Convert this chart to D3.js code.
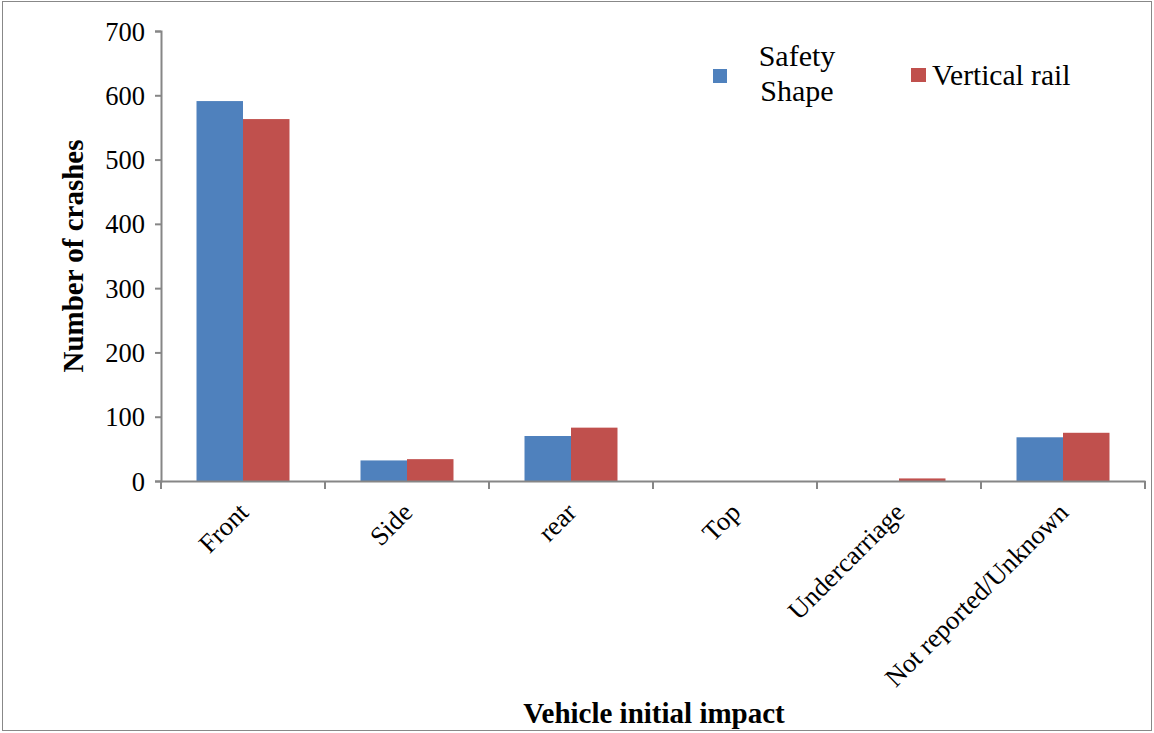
<!DOCTYPE html>
<html><head><meta charset="utf-8">
<script src="https://cdn.jsdelivr.net/npm/d3@7"></script>
<style>body{margin:0;background:#fff}svg{display:block}
svg text{font-family:"Liberation Serif","Times New Roman",serif !important;fill:#000}</style>
</head><body>
<script>
const categories = ["Front","Side","rear","Top","Undercarriage","Not reported/Unknown"];
const seriesNames = ["Safety Shape","Vertical rail"];
const safetyShape = [591, 32, 70, 0, 0, 68];
const verticalRail = [563, 34, 83, 0, 4, 75];
const yTicks = [0,100,200,300,400,500,600,700];
const colors = ["#4F81BD","#C0504D"];

const W=1154,H=733;
const m={left:161,right:1145,top:31,bottom:481};
const svg=d3.select("body").append("svg").attr("width",W).attr("height",H);
svg.append("rect").attr("x",2.5).attr("y",1.5).attr("width",1149).attr("height",729).attr("fill","none").attr("stroke","#888").attr("stroke-width",1);

const x=d3.scaleBand().domain(categories).range([m.left,m.right]);
const y=d3.scaleLinear().domain([0,700]).range([m.bottom,m.top]);
const inner=0.567;
const x1=d3.scaleBand().domain(seriesNames).range([0,x.bandwidth()*inner]);
const data=[safetyShape,verticalRail];

const g=svg.append("g");
categories.forEach((c,i)=>{
  seriesNames.forEach((s,j)=>{
    const v=data[j][i];
    if(v<=0) return;
    g.append("rect").attr("x",x(c)+x.bandwidth()*(1-inner)/2+x1(s)).attr("y",y(v))
     .attr("width",x1.bandwidth()).attr("height",y(0)-y(v)).attr("fill",colors[j]);
  });
});

// y axis
const ya=svg.append("g").attr("transform",`translate(${m.left},0)`)
  .call(d3.axisLeft(y).tickValues(yTicks).tickSize(6).tickPadding(10));
ya.select(".domain").attr("stroke","#868686").attr("stroke-width",2);
ya.selectAll(".tick line").attr("stroke","#868686").attr("stroke-width",2);
ya.selectAll("text").attr("font-size",26.5).attr("dy","0.34em");

// x axis
const xa=svg.append("g").attr("transform",`translate(0,${m.bottom})`)
  .call(d3.axisBottom(x).tickSize(0).tickSizeOuter(0));
xa.select(".domain").attr("stroke","#868686").attr("stroke-width",2);
xa.selectAll(".tick text").attr("font-size",26.5)
  .attr("text-anchor","end").attr("dy",0).attr("y",0)
  .attr("transform","translate(7,33) rotate(-45)");
// boundary ticks
const bounds=categories.map(c=>x(c)).concat([m.right]);
svg.append("g").selectAll("line").data(bounds).join("line")
  .attr("x1",d=>d).attr("x2",d=>d).attr("y1",m.bottom).attr("y2",m.bottom+8)
  .attr("stroke","#868686").attr("stroke-width",2);

// titles
svg.append("text").attr("transform","translate(83,256) rotate(-90)").attr("text-anchor","middle")
  .attr("font-weight","bold").attr("font-size",29).text("Number of crashes");
svg.append("text").attr("x",654).attr("y",723).attr("text-anchor","middle")
  .attr("font-weight","bold").attr("font-size",29).text("Vehicle initial impact");

// legend
const lg=svg.append("g");
lg.append("rect").attr("x",713).attr("y",69).attr("width",14).attr("height",14).attr("fill",colors[0]);
lg.append("text").attr("x",797).attr("y",66).attr("text-anchor","middle").attr("font-size",30).text("Safety");
lg.append("text").attr("x",797).attr("y",101).attr("text-anchor","middle").attr("font-size",30).text("Shape");
lg.append("rect").attr("x",911).attr("y",68).attr("width",15).attr("height",14).attr("fill",colors[1]);
lg.append("text").attr("x",932).attr("y",85).attr("font-size",29.5).text("Vertical rail");
</script>
</body></html>
